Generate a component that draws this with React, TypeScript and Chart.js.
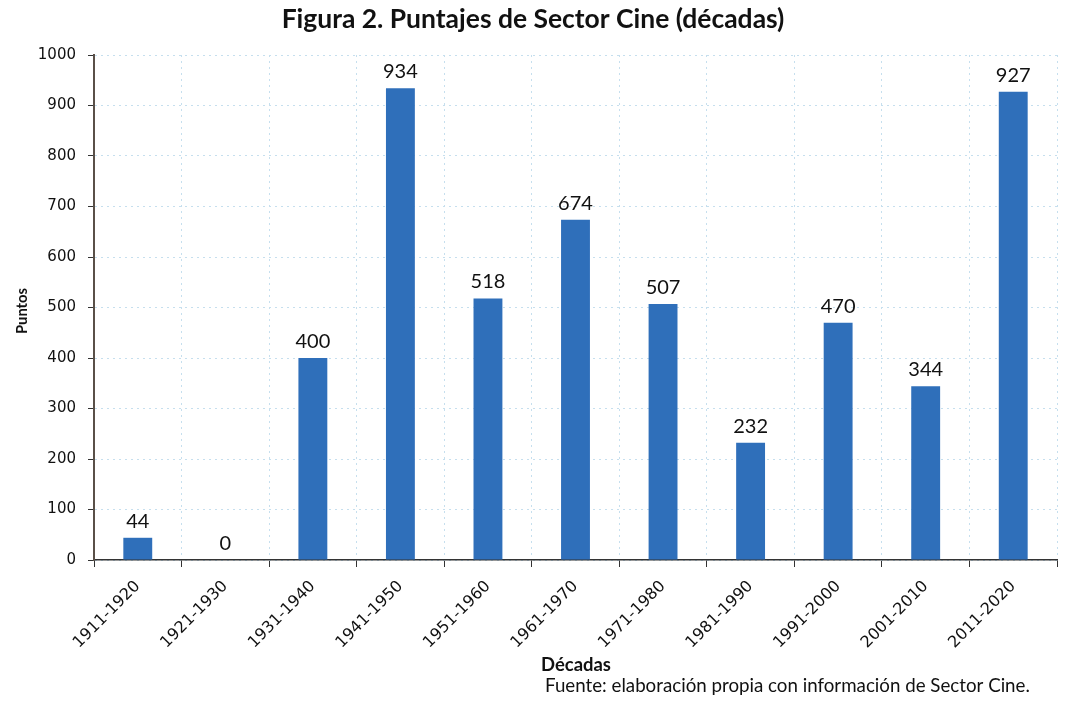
import React, { useEffect, useRef } from "react";
import { Chart, registerables } from "chart.js";

Chart.register(...registerables);

const categories = [
  "1911-1920", "1921-1930", "1931-1940", "1941-1950", "1951-1960", "1961-1970",
  "1971-1980", "1981-1990", "1991-2000", "2001-2010", "2011-2020",
];
const puntos = [44, 0, 400, 934, 518, 674, 507, 232, 470, 344, 927];
const titleText = "Figura 2. Puntajes de Sector Cine (décadas)";
const xTitle = "Décadas";
const yTitle = "Puntos";
const sourceText = "Fuente: elaboración propia con información de Sector Cine.";

const W = 1066;
const H = 706;

function fitFont(ctx: CanvasRenderingContext2D, text: string, weight: string, family: string, width: number) {
  ctx.font = `${weight} 100px ${family}`;
  const w = ctx.measureText(text).width;
  return (100 * width) / w;
}

export default function App() {
  const ref = useRef<HTMLCanvasElement>(null);
  useEffect(() => {
    document.body.style.margin = "0";
    const canvas = ref.current!;
    const textPlugin = {
      id: "texts",
      afterDraw(chart: any) {
        const ctx = chart.ctx as CanvasRenderingContext2D;
        ctx.save();
        const meta = chart.getDatasetMeta(0);
        ctx.fillStyle = "#111";
        ctx.textAlign = "center";
        ctx.textBaseline = "alphabetic";
        ctx.font = "20px Lato";
        meta.data.forEach((bar: any, i: number) => {
          ctx.fillText(String(puntos[i]), bar.x, bar.y - 10);
        });
        const ts = fitFont(ctx, titleText, "bold", "Lato", 503);
        ctx.font = `bold ${ts}px Lato`;
        ctx.fillText(titleText, 533, 28);
        const xs = fitFont(ctx, xTitle, "bold", "Lato", 70);
        ctx.font = `bold ${xs}px Lato`;
        ctx.fillText(xTitle, 576, 671);
        const ss = fitFont(ctx, sourceText, "normal", "Lato", 485);
        ctx.font = `${ss}px Lato`;
        ctx.textAlign = "left";
        ctx.fillText(sourceText, 545, 692);
        ctx.translate(27, 311);
        ctx.rotate(-Math.PI / 2);
        ctx.textAlign = "center";
        const ys = fitFont(ctx, yTitle, "bold", "Lato", 46);
        ctx.font = `bold ${ys}px Lato`;
        ctx.fillText(yTitle, 0, 0);
        ctx.restore();
      },
    };
    const chart = new Chart(canvas, {
      type: "bar",
      data: {
        labels: categories,
        datasets: [
          {
            data: puntos,
            backgroundColor: "#2F6FBA",
            barPercentage: 0.33,
            categoryPercentage: 1,
          },
        ],
      },
      options: {
        animation: false,
        responsive: false,
        devicePixelRatio: 1,
        layout: { padding: { top: 55, right: 9, left: 0, bottom: 0 } },
        plugins: { legend: { display: false }, tooltip: { enabled: false }, title: { display: false } },
        scales: {
          x: {
            afterFit(scale: any) { scale.height = 146; },
            grid: {
              offset: true,
              color: "#c6dfee",
              tickColor: "#333",
              tickLength: 7,
              tickBorderDash: [],
            },
            border: { color: "#333", width: 1.5, dash: [2, 4] },
            ticks: {
              maxRotation: 45,
              minRotation: 45,
              padding: 10,
              color: "#111",
              font: { family: "DejaVu Sans", size: 16 },
            },
          },
          y: {
            min: 0,
            max: 1000,
            afterFit(scale: any) { scale.width = 94; },
            grid: {
              color: "#c6dfee",
              tickColor: "#333",
              tickLength: 6,
              tickBorderDash: [],
            },
            border: { color: "#5a5048", width: 2, dash: [2, 4] },
            ticks: {
              stepSize: 100,
              padding: 12,
              color: "#111",
              font: { family: "DejaVu Sans", size: 15 },
              callback: (v: any) => String(v),
            },
          },
        },
      },
      plugins: [textPlugin],
    } as any);
    return () => chart.destroy();
  }, []);
  return (
    <div style={{ position: "absolute", left: 0, top: 0, width: W, height: H, background: "#fff" }}>
      <canvas ref={ref} width={W} height={H} style={{ width: W, height: H }} />
    </div>
  );
}
